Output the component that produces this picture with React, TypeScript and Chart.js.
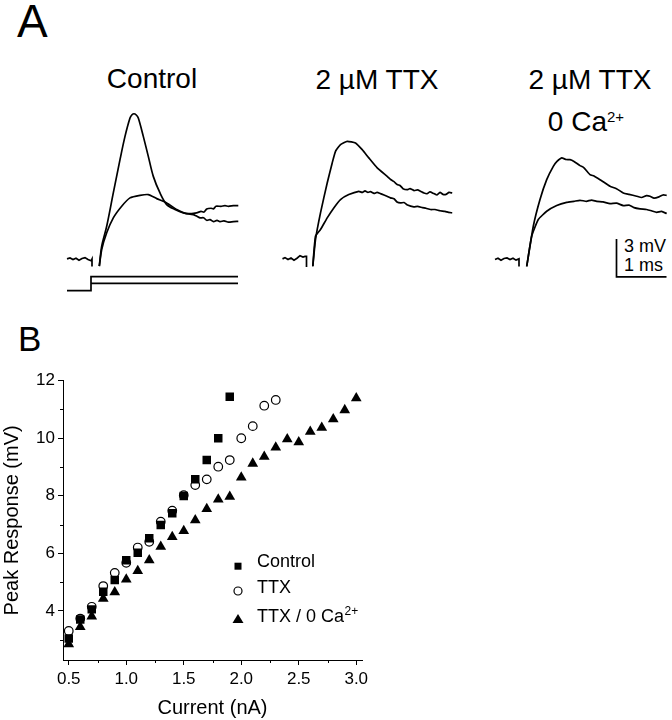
import React, { useEffect, useRef } from "react";
import { Chart, registerables } from "chart.js";
Chart.register(...registerables);

const FONT = '"Liberation Sans", Arial, Helvetica, sans-serif';
Chart.defaults.font.family = FONT;
Chart.defaults.color = "#000";

// ---------- Panel B data ----------
const currentNA = [0.5, 0.6, 0.7, 0.8, 0.9, 1.0, 1.1, 1.2, 1.3, 1.4, 1.5, 1.6, 1.7, 1.8, 1.9, 2.0, 2.1, 2.2, 2.3, 2.4, 2.5, 2.6, 2.7, 2.8, 2.9, 3.0];
const controlPeak = [3.04, 3.7, 4.05, 4.66, 5.07, 5.76, 6.02, 6.52, 6.98, 7.39, 7.99, 8.57, 9.24, 10.0, 11.44];
const ttxPeak = [3.3, 3.73, 4.14, 4.86, 5.32, 5.67, 6.2, 6.4, 7.1, 7.48, 8.02, 8.37, 8.57, 9.01, 9.24, 10.0, 10.42, 11.13, 11.33];
const ttxCaPeak = [2.84, 3.44, 3.81, 4.42, 4.65, 5.09, 5.39, 5.76, 6.23, 6.57, 6.78, 7.15, 7.54, 7.87, 7.97, 8.64, 9.12, 9.36, 9.68, 9.97, 9.86, 10.23, 10.37, 10.66, 10.98, 11.39];
const xTickValues = [0.5, 1.0, 1.5, 2.0, 2.5, 3.0];
const yTickValues = [4, 6, 8, 10, 12];
const xMinorTicks = [0.75, 1.25, 1.75, 2.25, 2.75];
const yMinorTicks = [3, 5, 7, 9, 11];

// ---------- Panel A traces (time in ms, voltage in mV, current in nA) ----------
const ctlBaseT = [-0.48, -0.42, -0.36, -0.3, -0.24, -0.18, -0.12, -0.06, 0.0, 0.02, 0.02];
const ctlBaseV = [0.05, 0.12, 0.0, 0.1, -0.05, 0.08, 0.15, 0.0, -0.1, 0.05, -0.55];
const ctlLargeT = [0.166, 0.214, 0.314, 0.446, 0.58, 0.68, 0.78, 0.82, 0.86, 0.9, 0.946, 1.046, 1.146, 1.246, 1.38, 1.514, 1.68, 1.846, 2.046, 2.1, 2.18, 2.25, 2.314, 2.38, 2.45, 2.52, 2.58, 2.66, 2.75, 2.85, 2.946];
const ctlLargeV = [-0.53, 1.05, 2.63, 5.26, 7.89, 9.73, 11.18, 11.44, 11.52, 11.44, 11.18, 9.73, 8.15, 6.57, 5.26, 4.34, 3.95, 3.69, 3.55, 3.45, 3.29, 3.3, 3.1, 3.15, 3.0, 3.1, 3.0, 3.05, 2.95, 3.0, 3.02];
const ctlSmallT = [0.166, 0.214, 0.314, 0.446, 0.614, 0.78, 0.98, 1.146, 1.314, 1.514, 1.714, 1.914, 2.114, 2.2, 2.26, 2.314, 2.4, 2.45, 2.5, 2.6, 2.68, 2.75, 2.85, 2.946];
const ctlSmallV = [-0.53, 0.79, 2.11, 3.29, 4.21, 4.87, 5.07, 5.13, 4.81, 4.47, 3.95, 3.63, 3.69, 3.8, 3.75, 4.0, 4.05, 4.0, 4.21, 4.2, 4.26, 4.2, 4.26, 4.26];
const stimHighT = [-0.48, 0, 0, 2.94];
const stimHighI = [0, 0, 1.9, 1.9];
const stimLowT = [0, 2.94];
const stimLowI = [1.0, 1.0];

const ttxBaseT = [-0.45, -0.4, -0.34, -0.28, -0.22, -0.16, -0.1, -0.04, 0.0, 0.03, 0.03];
const ttxBaseV = [0.05, 0.15, 0.0, 0.12, -0.05, 0.1, 0.3, 0.2, 0.25, 0.25, -0.6];
const ttxLargeT = [0.156, 0.21, 0.31, 0.444, 0.544, 0.61, 0.71, 0.844, 1.01, 1.144, 1.276, 1.444, 1.644, 1.72, 1.78, 1.844, 1.9, 1.96, 2.044, 2.1, 2.18, 2.25, 2.31, 2.38, 2.44, 2.5, 2.576, 2.64, 2.7, 2.76, 2.82, 2.88, 2.944];
const ttxLargeV = [-0.53, 1.58, 3.69, 6.05, 7.63, 8.55, 9.08, 9.34, 9.21, 8.68, 8.03, 7.24, 6.57, 6.3, 6.15, 5.92, 5.85, 5.6, 5.52, 5.6, 5.45, 5.5, 5.39, 5.25, 5.2, 5.35, 5.21, 5.1, 5.3, 5.15, 5.15, 5.3, 5.26];
const ttxSmallT = [0.156, 0.21, 0.31, 0.444, 0.576, 0.71, 0.876, 1.076, 1.14, 1.2, 1.26, 1.31, 1.38, 1.44, 1.51, 1.58, 1.64, 1.71, 1.78, 1.84, 1.91, 1.98, 2.05, 2.176, 2.25, 2.35, 2.42, 2.51, 2.6, 2.7, 2.8, 2.87, 2.944];
const ttxSmallV = [-0.53, 1.84, 2.37, 3.29, 4.08, 4.74, 5.13, 5.39, 5.3, 5.42, 5.3, 5.36, 5.22, 5.3, 5.21, 5.1, 5.0, 4.87, 4.8, 4.55, 4.47, 4.5, 4.3, 4.16, 4.2, 4.1, 4.05, 3.95, 3.95, 3.85, 3.8, 3.72, 3.69];

const caBaseT = [-0.48, -0.42, -0.36, -0.3, -0.24, -0.18, -0.12, -0.06, 0.0, 0.0];
const caBaseV = [0.0, 0.1, -0.05, 0.08, 0.12, 0.0, 0.1, -0.05, 0.05, -0.55];
const caLargeT = [0.154, 0.286, 0.42, 0.554, 0.686, 0.76, 0.854, 0.94, 1.02, 1.1, 1.22, 1.3, 1.42, 1.5, 1.62, 1.7, 1.82, 1.95, 2.086, 2.2, 2.354, 2.45, 2.55, 2.62, 2.7, 2.8, 2.88, 2.954];
const caLargeV = [-0.55, 2.63, 4.74, 6.31, 7.36, 7.75, 8.03, 7.9, 7.89, 7.75, 7.42, 7.25, 6.71, 6.6, 6.31, 6.1, 5.79, 5.6, 5.26, 5.15, 5.0, 4.9, 5.05, 5.0, 4.85, 4.95, 5.1, 5.07];
const caSmallT = [0.154, 0.254, 0.386, 0.554, 0.754, 0.954, 1.1, 1.22, 1.35, 1.45, 1.554, 1.68, 1.82, 1.95, 2.086, 2.2, 2.3, 2.42, 2.55, 2.65, 2.754, 2.85, 2.954];
const caSmallV = [-0.55, 1.84, 3.16, 3.81, 4.26, 4.52, 4.6, 4.68, 4.6, 4.7, 4.6, 4.55, 4.42, 4.45, 4.26, 4.3, 4.1, 4.0, 3.95, 3.85, 3.73, 3.8, 3.63];

const scaleBarT = [1.95, 1.95, 2.95];
const scaleBarV = [1.63, -1.37, -1.37];

type Trace = { t: number[]; v: number[]; axis?: string; smooth?: number };

function traceConfig(traces: Trace[]): any {
  return {
    type: "line",
    data: {
      datasets: traces.map((s) => ({
        data: s.t.map((t, i) => ({ x: t, y: s.v[i] })),
        borderColor: "#000",
        borderWidth: 1.7,
        pointRadius: 0,
        tension: s.smooth || 0,
        yAxisID: s.axis || "y",
        fill: false,
      })),
    },
    options: {
      responsive: false,
      animation: false,
      events: [],
      plugins: { legend: { display: false }, tooltip: { enabled: false } },
      layout: { padding: 0 },
      scales: {
        x: { type: "linear", min: -0.62, max: 3.06, display: false },
        y: { type: "linear", axis: "y", min: -3.2, max: 13, display: false },
        ys: { type: "linear", axis: "y", min: -1.26, max: 26.55, display: false },
      },
    },
  };
}

const bPlugin = {
  id: "bExtras",
  afterDraw(chart: any) {
    const { ctx, chartArea, scales } = chart;
    const x = scales.x;
    const y = scales.y;
    ctx.save();
    ctx.strokeStyle = "#000";
    ctx.lineWidth = 1;
    ctx.beginPath();
    for (const v of xMinorTicks) {
      const px = Math.round(x.getPixelForValue(v)) + 0.5;
      ctx.moveTo(px, chartArea.bottom);
      ctx.lineTo(px, chartArea.bottom + 3);
    }
    for (const v of yMinorTicks) {
      const py = Math.round(y.getPixelForValue(v)) + 0.5;
      ctx.moveTo(chartArea.left, py);
      ctx.lineTo(chartArea.left - 3, py);
    }
    ctx.stroke();

    // legend
    const mx = chartArea.left + 175;
    const tx = chartArea.left + 194;
    const rows = [
      { label: "Control", sup: "", style: "rect", my: 185.5, ty: 186.5 },
      { label: "TTX", sup: "", style: "circle", my: 210.3, ty: 212.5 },
      { label: "TTX / 0 Ca", sup: "2+", style: "triangle", my: 238.3, ty: 241 },
    ];
    ctx.fillStyle = "#000";
    ctx.textBaseline = "alphabetic";
    ctx.textAlign = "left";
    for (const r of rows) {
      const my = chartArea.top + r.my;
      ctx.beginPath();
      if (r.style === "rect") {
        ctx.fillRect(mx - 3.5, my - 3.5, 7, 7);
      } else if (r.style === "circle") {
        ctx.lineWidth = 1.2;
        ctx.arc(mx, my, 4, 0, Math.PI * 2);
        ctx.fillStyle = "#fff";
        ctx.fill();
        ctx.stroke();
        ctx.fillStyle = "#000";
      } else {
        ctx.moveTo(mx, my - 5);
        ctx.lineTo(mx + 5.5, my + 4);
        ctx.lineTo(mx - 5.5, my + 4);
        ctx.closePath();
        ctx.fill();
      }
      const ty = chartArea.top + r.ty;
      ctx.font = `18px ${FONT}`;
      ctx.fillText(r.label, tx, ty);
      if (r.sup) {
        const w = ctx.measureText(r.label).width;
        ctx.font = `12px ${FONT}`;
        ctx.fillText(r.sup, tx + w + 0.5, ty - 7);
      }
    }
    ctx.restore();
  },
};

function scatterConfig(): any {
  const mk = (vals: number[]) => vals.map((v, i) => ({ x: currentNA[i], y: v }));
  return {
    type: "scatter",
    data: {
      datasets: [
        { label: "Control", data: mk(controlPeak), pointStyle: "rect", pointRadius: 6, backgroundColor: "#000", borderColor: "#000", borderWidth: 0 },
        { label: "TTX", data: mk(ttxPeak), pointStyle: "circle", pointRadius: 4.3, backgroundColor: "#fff", borderColor: "#000", borderWidth: 1.2 },
        { label: "TTX / 0 Ca2+", data: mk(ttxCaPeak), pointStyle: "triangle", pointRadius: 6.2, backgroundColor: "#000", borderColor: "#000", borderWidth: 0 },
      ],
    },
    options: {
      responsive: false,
      animation: false,
      events: [],
      plugins: { legend: { display: false }, tooltip: { enabled: false } },
      layout: { padding: { top: 20.7, right: 18, left: 0, bottom: 0 } },
      scales: {
        x: {
          type: "linear",
          min: 0.45,
          max: 3.05,
          afterBuildTicks: (s: any) => { s.ticks = xTickValues.map((v) => ({ value: v })); },
          afterFit: (s: any) => { s.height = 60; },
          ticks: { autoSkip: false, maxRotation: 0, font: { size: 17 }, color: "#000", padding: 4, callback: (v: any) => Number(v).toFixed(1) },
          grid: { drawOnChartArea: false, drawTicks: true, tickLength: 5, color: "#000", lineWidth: 1 },
          border: { display: true, color: "#000", width: 1 },
          title: { display: true, text: "Current (nA)", font: { size: 20 }, color: "#000", padding: { top: 0, bottom: 0 } },
        },
        y: {
          type: "linear",
          min: 2.29,
          max: 12,
          afterBuildTicks: (s: any) => { s.ticks = yTickValues.map((v) => ({ value: v })); },
          afterFit: (s: any) => { s.width = 63; },
          ticks: { autoSkip: false, font: { size: 17 }, color: "#000", padding: 3, callback: (v: any) => String(v) },
          grid: { drawOnChartArea: false, drawTicks: true, tickLength: 5, color: "#000", lineWidth: 1 },
          border: { display: true, color: "#000", width: 1 },
          title: { display: true, text: "Peak Response (mV)", font: { size: 20 }, color: "#000", padding: { top: 0, bottom: 0 } },
        },
      },
    },
    plugins: [bPlugin],
  };
}

function ChartCanvas({ make, left, top, width, height }: { make: () => any; left: number; top: number; width: number; height: number }) {
  const ref = useRef<HTMLCanvasElement>(null);
  useEffect(() => {
    const chart = new Chart(ref.current as HTMLCanvasElement, make());
    return () => chart.destroy();
  }, []);
  return <canvas ref={ref} width={width} height={height} style={{ position: "absolute", left, top, width, height }} />;
}

const txt = (size: number): React.CSSProperties => ({ position: "absolute", fontSize: size, lineHeight: `${size}px`, whiteSpace: "nowrap", color: "#000" });

export default function App() {
  return (
    <div style={{ position: "absolute", left: 0, top: 0, width: 672, height: 720, background: "#fff", fontFamily: FONT, overflow: "hidden" }}>
      <div style={{ ...txt(46), left: 17, top: -2 }}>A</div>
      <div style={{ ...txt(35), left: 18, top: 320.5 }}>B</div>

      <div style={{ ...txt(28), left: 52, width: 200, textAlign: "center", top: 65.3 }}>Control</div>
      <div style={{ ...txt(28), left: 277, width: 200, textAlign: "center", top: 66.3 }}>2 µM TTX</div>
      <div style={{ ...txt(28), left: 490, width: 200, textAlign: "center", top: 66.3 }}>2 µM TTX</div>
      <div style={{ ...txt(28), left: 486, width: 200, textAlign: "center", top: 108.3 }}>
        0 Ca<span style={{ fontSize: 15, position: "relative", top: -9.5 }}>2+</span>
      </div>
      <div style={{ ...txt(18), left: 624, top: 236.8 }}>3 mV</div>
      <div style={{ ...txt(18), left: 624, top: 255.8 }}>1 ms</div>

      <ChartCanvas
        left={60}
        top={95}
        width={184}
        height={205}
        make={() =>
          traceConfig([
            { t: ctlBaseT, v: ctlBaseV },
            { t: ctlLargeT, v: ctlLargeV, smooth: 0.3 },
            { t: ctlSmallT, v: ctlSmallV, smooth: 0.2 },
            { t: stimHighT, v: stimHighI, axis: "ys" },
            { t: stimLowT, v: stimLowI, axis: "ys" },
          ])
        }
      />
      <ChartCanvas
        left={273.5}
        top={95}
        width={184}
        height={205}
        make={() =>
          traceConfig([
            { t: ttxBaseT, v: ttxBaseV },
            { t: ttxLargeT, v: ttxLargeV, smooth: 0.15 },
            { t: ttxSmallT, v: ttxSmallV, smooth: 0.15 },
          ])
        }
      />
      <ChartCanvas
        left={488}
        top={95}
        width={184}
        height={205}
        make={() =>
          traceConfig([
            { t: caBaseT, v: caBaseV },
            { t: caLargeT, v: caLargeV, smooth: 0.15 },
            { t: caSmallT, v: caSmallV, smooth: 0.15 },
            { t: scaleBarT, v: scaleBarV },
          ])
        }
      />

      <ChartCanvas left={0} top={360} width={380} height={360} make={scatterConfig} />
    </div>
  );
}
